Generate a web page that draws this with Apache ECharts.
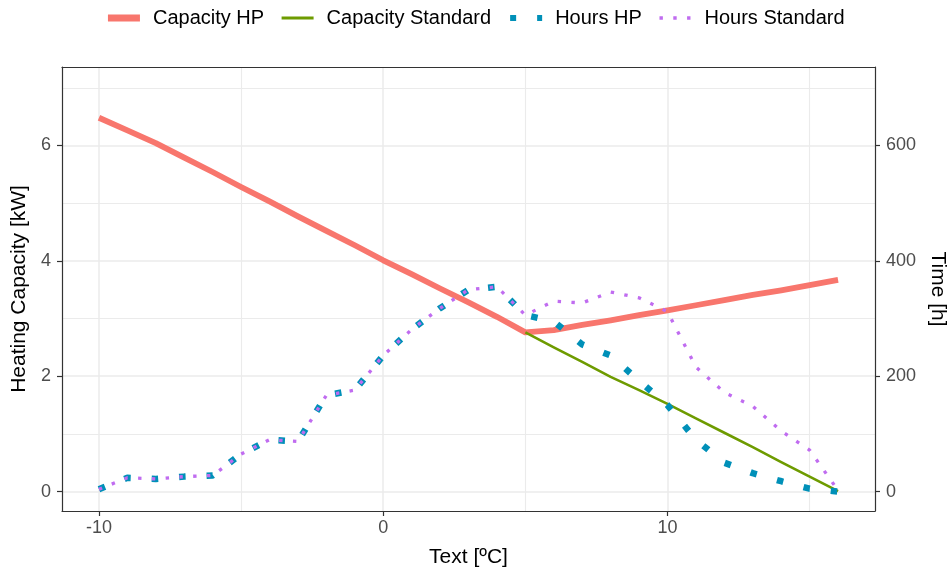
<!DOCTYPE html>
<html>
<head>
<meta charset="utf-8">
<script src="https://cdn.jsdelivr.net/npm/echarts@6/dist/echarts.min.js"></script>
<style>html,body{margin:0;padding:0;background:#fff}#c{width:949px;height:577px}</style>
</head>
<body>
<div id="c"></div>
<script>
// Outdoor temperature (ºC)
const temps = [-10,-9,-8,-7,-6,-5,-4,-3,-2,-1,0,1,2,3,4,5,6,7,8,9,10,11,12,13,14,15,16];
// Heating capacity [kW]
const capacityHP = [6.48,6.26,6.04,5.79,5.54,5.28,5.03,4.77,4.52,4.27,4.01,3.77,3.52,3.28,3.03,2.76,2.80,2.89,2.97,3.06,3.14,3.23,3.32,3.41,3.49,3.58,3.67];
const tempsStd = [5,6,7,8,9,10,11,12,13,14,15,16];
const capacityStandard = [2.76,2.50,2.25,1.99,1.76,1.52,1.27,1.02,0.77,0.51,0.26,0.01];
// Hours [h]
const hoursHP = [4,24,22,26,28,65,90,87,167,176,236,281,318,350,355,306,295,255,236,192,150,90,50,32,18,5,0];
const hoursStandard = [4,24,22,26,28,65,90,87,167,176,236,281,318,350,355,306,330,327,346,336,312,216,172,148,105,72,2];
// Tick labels
const xTicks = [-10,0,10];
const xMinor = [-5,5,15];
const yTicks = [0,2,4,6];
const yMinor = [1,3,5,7];
const y2Ticks = [0,200,400,600];

const pair = (xs, ys) => xs.map((x, i) => [x, ys[i]]);
const FONT = "'Liberation Sans', Arial, sans-serif";
const border = {show: true, onZero: false, lineStyle: {color: '#333333', width: 1.2}};
const grid92 = '#EBEBEB';
const C_HP = '#F8766D', C_STD = '#6E9B00', C_HHP = '#0090B8', C_HSTD = '#C06CF0';

const chart = echarts.init(document.getElementById('c'), null, {renderer: 'canvas'});
chart.setOption({
  animation: false,
  textStyle: {fontFamily: FONT},
  grid: {left: 62, right: 74, top: 67, bottom: 66, outerBoundsMode: 'none', containLabel: false},
  legend: {
    top: 3, left: 'center', itemWidth: 32, itemHeight: 14, itemGap: 16,
    itemStyle: {opacity: 0},
    textStyle: {fontSize: 20, color: '#000', fontFamily: FONT, padding: [0, 0, 0, 8]},
    data: [
      {name: 'Capacity HP', lineStyle: {width: 7, color: C_HP, type: 'solid', cap: 'butt'}},
      {name: 'Capacity Standard', lineStyle: {width: 3, color: C_STD, type: 'solid', cap: 'butt'}},
      {name: 'Hours HP', lineStyle: {width: 6, color: C_HHP, type: [6, 21], cap: 'butt'}},
      {name: 'Hours Standard', lineStyle: {width: 3.3, color: C_HSTD, type: [3.4, 10.4], cap: 'butt'}}
    ]
  },
  xAxis: [
    {
      type: 'value', min: -11.3, max: 17.3, position: 'bottom',
      axisLine: border,
      axisTick: {show: true, customValues: xTicks, length: 5, lineStyle: {color: '#333333', width: 1.2}},
      axisLabel: {customValues: xTicks, color: '#4D4D4D', fontSize: 18, margin: 8, fontFamily: FONT},
      splitLine: {show: true, lineStyle: {color: grid92, width: 1.5}},
      name: 'Text [ºC]', nameLocation: 'middle', nameGap: 36,
      nameTextStyle: {fontSize: 21, color: '#000', fontFamily: FONT}
    },
    {
      type: 'value', min: -11.3, max: 17.3, position: 'top',
      axisLine: border,
      axisTick: {show: false, customValues: xMinor},
      axisLabel: {show: false, customValues: xMinor},
      splitLine: {show: true, lineStyle: {color: grid92, width: 1.1}}
    }
  ],
  yAxis: [
    {
      type: 'value', min: -0.336, max: 7.36, position: 'left',
      axisLine: border,
      axisTick: {show: true, customValues: yTicks, length: 5, lineStyle: {color: '#333333', width: 1.2}},
      axisLabel: {customValues: yTicks, color: '#4D4D4D', fontSize: 18, margin: 11, fontFamily: FONT},
      splitLine: {show: true, lineStyle: {color: grid92, width: 1.5}},
      name: 'Heating Capacity [kW]', nameLocation: 'middle', nameGap: 28, nameRotate: 90,
      nameTextStyle: {fontSize: 21, color: '#000', fontFamily: FONT}
    },
    {
      type: 'value', min: -33.6, max: 736, position: 'right',
      axisLine: border,
      axisTick: {show: true, customValues: y2Ticks, length: 5, lineStyle: {color: '#333333', width: 1.2}},
      axisLabel: {customValues: y2Ticks, color: '#4D4D4D', fontSize: 18, margin: 11, fontFamily: FONT},
      splitLine: {show: false},
      name: 'Time [h]', nameLocation: 'middle', nameGap: 48, nameRotate: -90,
      nameTextStyle: {fontSize: 21, color: '#000', fontFamily: FONT}
    },
    {
      type: 'value', min: -0.336, max: 7.36, position: 'left',
      axisLine: {show: false},
      axisTick: {show: false, customValues: yMinor},
      axisLabel: {show: false, customValues: yMinor},
      splitLine: {show: true, lineStyle: {color: grid92, width: 1.1}}
    }
  ],
  series: [
    {
      name: 'Capacity HP', type: 'line', xAxisIndex: 0, yAxisIndex: 0, symbol: 'none',
      data: pair(temps, capacityHP), color: C_HP,
      lineStyle: {width: 5.8, color: C_HP, join: 'round', cap: 'butt'}
    },
    {
      name: 'Capacity Standard', type: 'line', xAxisIndex: 0, yAxisIndex: 0, symbol: 'none',
      data: pair(tempsStd, capacityStandard), color: C_STD,
      lineStyle: {width: 2.6, color: C_STD, join: 'round', cap: 'butt'}
    },
    {
      name: 'Hours HP', type: 'line', xAxisIndex: 0, yAxisIndex: 1, symbol: 'none',
      data: pair(temps, hoursHP), color: C_HHP,
      lineStyle: {width: 6.5, color: C_HHP, type: [6.5, 21], join: 'round', cap: 'butt'}
    },
    {
      name: 'Hours Standard', type: 'line', xAxisIndex: 0, yAxisIndex: 1, symbol: 'none',
      data: pair(temps, hoursStandard), color: C_HSTD,
      lineStyle: {width: 3.3, color: C_HSTD, type: [3.4, 10.4], join: 'round', cap: 'butt'}
    }
  ]
});
</script>
</body>
</html>
